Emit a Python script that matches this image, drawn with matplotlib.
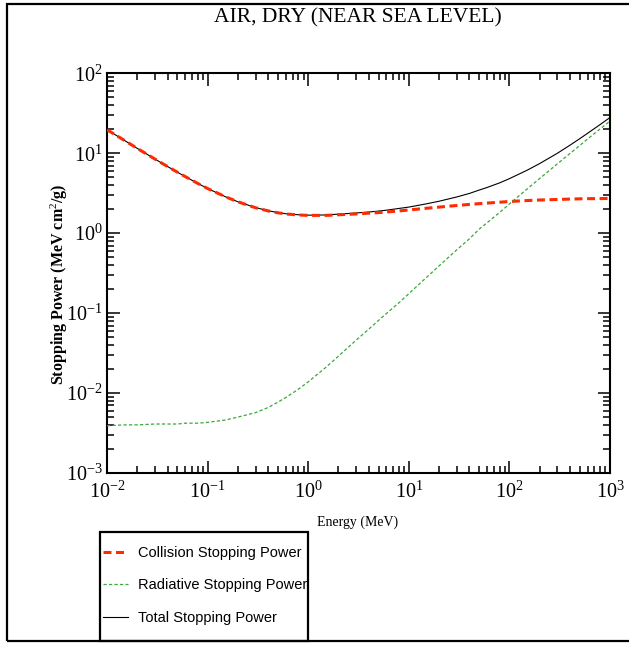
import numpy as np
import matplotlib
matplotlib.use("Agg")
import matplotlib.pyplot as plt
from matplotlib.patches import Rectangle
from matplotlib.ticker import LogLocator, NullFormatter

# electron stopping powers, dry air
energy = [0.01, 0.015, 0.02, 0.03, 0.04, 0.05, 0.06, 0.08, 0.1, 0.15, 0.2, 0.3,
          0.4, 0.5, 0.6, 0.8, 1.0, 1.5, 2.0, 3.0, 4.0, 5.0, 6.0, 8.0, 10.0, 15.0,
          20.0, 30.0, 40.0, 50.0, 60.0, 80.0, 100.0, 150.0, 200.0, 300.0, 400.0,
          500.0, 600.0, 800.0, 1000.0]
collision = [19.7, 14.4, 11.5, 8.45, 6.82, 5.80, 5.10, 4.19, 3.62, 2.86, 2.47, 2.08,
             1.90, 1.80, 1.74, 1.69, 1.67, 1.67, 1.70, 1.74, 1.78, 1.81, 1.84, 1.90,
             1.95, 2.05, 2.12, 2.22, 2.29, 2.34, 2.38, 2.44, 2.49, 2.56, 2.60, 2.64,
             2.67, 2.69, 2.70, 2.71, 2.72]
radiative = [0.0039, 0.0040, 0.0040, 0.0041, 0.0041, 0.0041, 0.0042, 0.0042, 0.0043,
             0.0046, 0.0050, 0.0057, 0.0066, 0.0077, 0.0088, 0.0112, 0.0138, 0.021,
             0.029, 0.046, 0.063, 0.081, 0.099, 0.135, 0.175, 0.28, 0.39, 0.62, 0.85,
             1.12, 1.35, 1.82, 2.32, 3.57, 4.83, 7.37, 9.93, 12.5, 15.1, 20.2, 25.3]
total = [19.7, 14.4, 11.5, 8.45, 6.82, 5.80, 5.10, 4.19, 3.62, 2.86, 2.47, 2.09,
         1.91, 1.81, 1.75, 1.70, 1.68, 1.69, 1.73, 1.79, 1.84, 1.89, 1.94, 2.04,
         2.12, 2.33, 2.51, 2.84, 3.14, 3.46, 3.73, 4.26, 4.81, 6.13, 7.43, 10.0,
         12.6, 15.2, 17.8, 22.9, 28.0]

W, H = 629, 645
serif = ["Liberation Serif", "DejaVu Serif"]
plt.rcParams["mathtext.fontset"] = "custom"
plt.rcParams["mathtext.rm"] = "Liberation Serif"
plt.rcParams["mathtext.it"] = "Liberation Serif:italic"
plt.rcParams["mathtext.bf"] = "Liberation Serif:bold"

fig = plt.figure(figsize=(W / 100, H / 100), dpi=100)
ax = fig.add_axes([107 / W, 1 - 473 / H, (610 - 107) / W, (473 - 73.3) / H])

ax.plot(energy, collision, color="#ff2a00", lw=2.2, dashes=(2.6, 1.5),
        label="Collision Stopping Power", zorder=3)
ax.plot(energy, radiative, color="#3aa83a", lw=0.9, dashes=(2.6, 1.8),
        label="Radiative Stopping Power", zorder=3)
ax.plot(energy, total, color="black", lw=0.8, label="Total Stopping Power", zorder=2)

ax.set_xscale("log")
ax.set_yscale("log")
ax.set_xlim(1e-2, 1e3)
ax.set_ylim(1e-3, 1e2)
ax.xaxis.set_major_locator(LogLocator(base=10, numticks=10))
ax.yaxis.set_major_locator(LogLocator(base=10, numticks=10))
ax.xaxis.set_minor_locator(LogLocator(base=10, subs=np.arange(2, 10), numticks=20))
ax.yaxis.set_minor_locator(LogLocator(base=10, subs=np.arange(2, 10), numticks=20))
ax.xaxis.set_minor_formatter(NullFormatter())
ax.yaxis.set_minor_formatter(NullFormatter())

for s in ax.spines.values():
    s.set_linewidth(1.5)
ax.tick_params(which="both", direction="in", top=True, right=True, width=1.1)
ax.tick_params(which="major", length=9, labelsize=14.5)
ax.tick_params(axis="x", which="major", pad=6)
ax.tick_params(axis="y", which="major", pad=3)
ax.tick_params(which="minor", length=5)
for lab in ax.get_xticklabels() + ax.get_yticklabels():
    lab.set_family(serif)

fig.text(358 / W, 1 - 18 / H, "AIR, DRY (NEAR SEA LEVEL)", family=serif,
         fontsize=15.5, ha="center", va="center")
fig.text(358 / W, 1 - 522 / H, "Energy (MeV)", family=serif, fontsize=10,
         ha="center", va="center")
fig.text(59 / W, 1 - 284 / H, r"Stopping Power (MeV cm$^2$/g)", family=serif,
         fontsize=11.5, fontweight="bold", rotation=90, ha="center", va="center")

# outer frame and legend box
fig.patches.append(Rectangle((7 / W, 1 - 641 / H), 1.0, (641 - 3.5) / H,
                             transform=fig.transFigure, fill=False, lw=1.6,
                             edgecolor="black"))
fig.patches.append(Rectangle((100 / W, 1 - 641 / H), 208 / W, 109 / H,
                             transform=fig.transFigure, fill=False, lw=1.6,
                             edgecolor="black"))

leg = fig.legend(loc="center left", bbox_to_anchor=(96 / W, 1 - 585.5 / H),
                 frameon=False, borderpad=0, handlelength=1.7, handletextpad=0.65,
                 labelspacing=1.25,
                 prop={"family": ["Liberation Sans"], "size": 10.5})

fig.savefig("out.png", dpi=100)
